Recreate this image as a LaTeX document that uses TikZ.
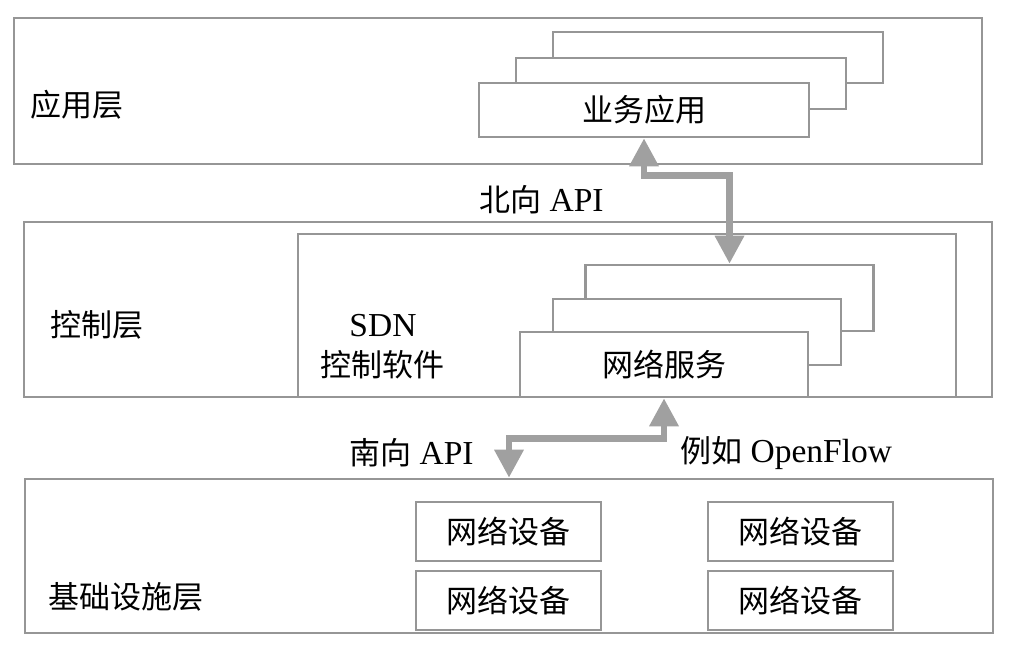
\documentclass[tikz,border=0pt]{standalone}
\usepackage{fontspec}
\setmainfont{Liberation Serif}
\newfontfamily\cjk{Noto Sans CJK SC}
\usepackage{tikz}
\usetikzlibrary{arrows.meta,positioning}
\definecolor{boxgray}{RGB}{150,150,150}
\definecolor{arrowgray}{RGB}{160,160,160}
\newcommand{\zh}[1]{{\cjk\fontsize{31}{36}\selectfont #1}}
\tikzset{
  layer/.style={draw=boxgray, line width=2.6pt, inner sep=0pt},
  card/.style={draw=boxgray, line width=2.6pt, fill=white, inner sep=0pt, font=\cjk\fontsize{31}{36}\selectfont},
  label/.style={inner sep=0pt, font=\fontsize{33.5}{38}\selectfont},
  api/.style={draw=arrowgray, line width=6.5pt, {Triangle[length=28pt,width=28pt]}-{Triangle[length=28pt,width=28pt]}},
}
\begin{document}
\begin{tikzpicture}[x=1pt,y=-1pt]
\useasboundingbox (0,0) rectangle (1032,656);

\node[layer, minimum width=968pt, minimum height=146pt] (applayer) at (498,91) {};
\node[label, anchor=west] (applabel) at (30,105) {\zh{应用层}};
\node[card, minimum width=330pt, minimum height=51pt] (app3) at (718,57.5) {};
\node[card, minimum width=330pt, minimum height=51pt] (app2) at (681,83.5) {};
\node[card, minimum width=330pt, minimum height=54pt] (app1) at (644,110) {业务应用};

\node[layer, minimum width=968pt, minimum height=175pt] (ctrllayer) at (508,309.5) {};
\node[label, anchor=west] (ctrllabel) at (50,325) {\zh{控制层}};
\node[layer, minimum width=658pt, minimum height=163pt] (sdnbox) at (627,315.5) {};
\node[label] (sdnname) at (383,326) {SDN};
\node[label] (sdnsoft) at (382,365) {\zh{控制软件}};
\node[card, minimum width=288pt, minimum height=66pt] (svc3) at (729.5,298) {};
\node[card, minimum width=288pt, minimum height=66pt] (svc2) at (697,332) {};
\node[card, minimum width=288pt, minimum height=65pt] (svc1) at (664,364.5) {网络服务};

\node[layer, minimum width=968pt, minimum height=154pt] (infra) at (509,556) {};
\node[label, anchor=west] (infralabel) at (48,597) {\zh{基础设施层}};
\node[card, minimum width=185pt, minimum height=59pt] (dev1) at (508.5,531.5) {网络设备};
\node[card, minimum width=185pt, minimum height=59pt] (dev2) at (508.5,600.5) {网络设备};
\node[card, minimum width=185pt, minimum height=59pt] (dev3) at (800.5,531.5) {网络设备};
\node[card, minimum width=185pt, minimum height=59pt] (dev4) at (800.5,600.5) {网络设备};

\node[label, anchor=west] (north) at (479,200) {\zh{北向} API};
\node[label, anchor=west] (south) at (349,453) {\zh{南向} API};
\node[label, anchor=west] (openflow) at (680,453) {\zh{例如} OpenFlow};

\draw[api] (app1.south) -- ++(0,37) -| (svc3.north);
\draw[api] (svc1.south) -- ++(0,40) -| (infra.north);
\end{tikzpicture}
\end{document}
